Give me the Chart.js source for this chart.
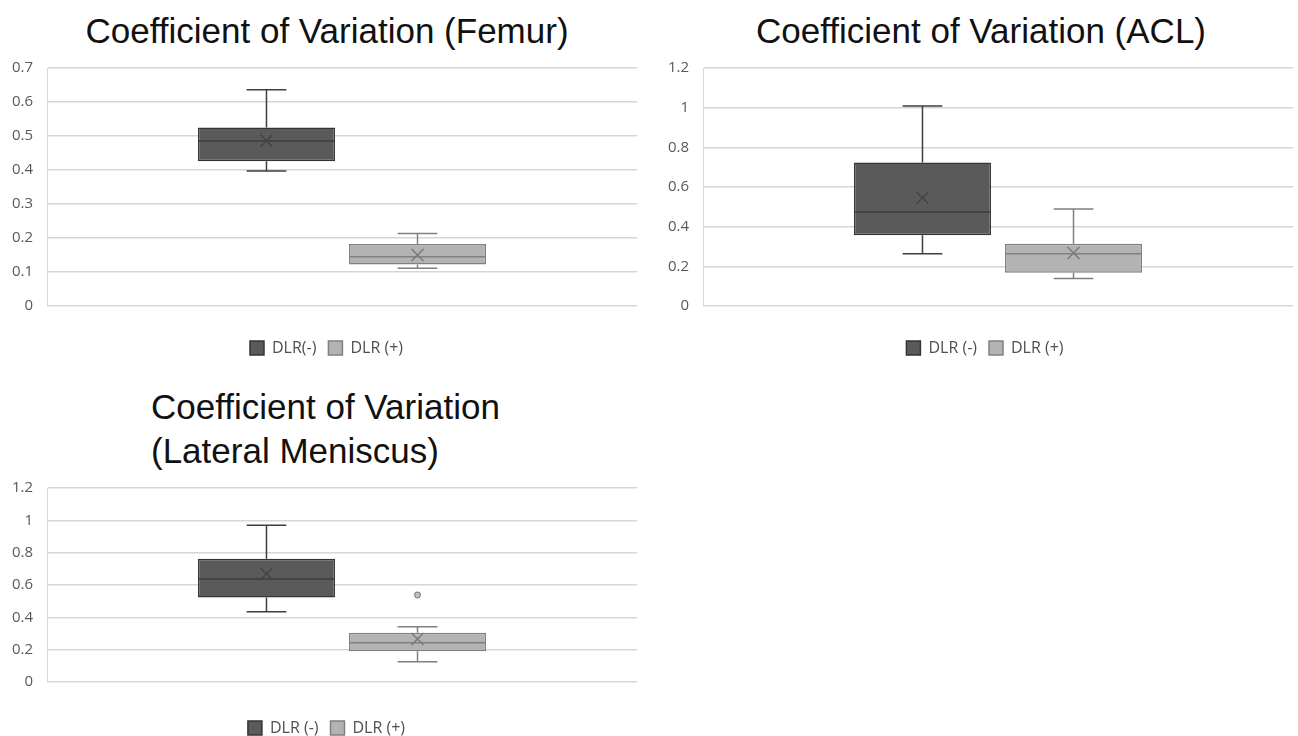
<!DOCTYPE html>
<html>
<head>
<meta charset="utf-8">
<script src="https://cdn.jsdelivr.net/npm/chart.js@4/dist/chart.umd.min.js"></script>
<style>
  html, body { margin: 0; padding: 0; background: #fff; overflow: hidden; }
  body { width: 1298px; height: 736px; position: relative; }
  .title { position: absolute; font-family: "Liberation Sans", Arial, sans-serif; font-size: 35px; color: #111; white-space: nowrap; }
  .box { position: absolute; }
</style>
</head>
<body>
<div class="title" style="left:2px; top:11px; width:650px; text-align:center;">Coefficient of Variation (Femur)</div>
<div class="title" style="left:656px; top:11px; width:650px; text-align:center;">Coefficient of Variation (ACL)</div>
<div class="title" style="left:151px; top:385px; line-height:44px;">Coefficient of Variation<br>(Lateral Meniscus)</div>

<div class="box" style="left:0; top:45px; width:653px; height:321px;"><canvas id="femur"></canvas></div>
<div class="box" style="left:656px; top:45px; width:658px; height:321px;"><canvas id="acl"></canvas></div>
<div class="box" style="left:0; top:465px; width:653px; height:281px;"><canvas id="meniscus"></canvas></div>

<script>
// one category per chart, two series (DLR- / DLR+)
const categories = [''];
const femurSeries = ['DLR(-)', 'DLR (+)'];
const otherSeries = ['DLR (-)', 'DLR (+)'];

// Femur
const femurMin = [0.397, 0.111];
const femurQ1 = [0.426, 0.122];
const femurMedian = [0.485, 0.145];
const femurQ3 = [0.525, 0.182];
const femurMax = [0.636, 0.213];
const femurMean = [0.486, 0.150];
const femurOutliers = [[], []];

// ACL
const aclMin = [0.263, 0.139];
const aclQ1 = [0.357, 0.168];
const aclMedian = [0.474, 0.263];
const aclQ3 = [0.724, 0.314];
const aclMax = [1.008, 0.489];
const aclMean = [0.546, 0.267];
const aclOutliers = [[], []];

// Lateral meniscus
const lmMin = [0.434, 0.126];
const lmQ1 = [0.522, 0.190];
const lmMedian = [0.637, 0.243];
const lmQ3 = [0.762, 0.305];
const lmMax = [0.969, 0.342];
const lmMean = [0.670, 0.266];
const lmOutliers = [[], [0.538]];

const fills = ['#5a5a5a', '#b3b3b3'];
const edges = ['#343434', '#808080'];
const inner = ['#3e3e3e', '#808080'];

// whiskers, median, mean cross and outliers on top of the floating bars
const whiskerPlugin = {
  id: 'whiskers',
  afterDatasetsDraw(chart) {
    const ctx = chart.ctx;
    const y = chart.scales.y;
    chart.data.datasets.forEach((ds, i) => {
      const bar = chart.getDatasetMeta(i).data[0];
      const s = ds.stats;
      const x = bar.x;
      const half = bar.width / 2;
      const cap = bar.width * 0.145;
      const yq1 = y.getPixelForValue(ds.data[0][0]);
      const yq3 = y.getPixelForValue(ds.data[0][1]);
      ctx.save();
      ctx.strokeStyle = inner[i];
      ctx.lineWidth = 1.5;
      ctx.beginPath();
      // upper whisker
      ctx.moveTo(x, yq3); ctx.lineTo(x, y.getPixelForValue(s.max));
      ctx.moveTo(x - cap, y.getPixelForValue(s.max)); ctx.lineTo(x + cap, y.getPixelForValue(s.max));
      // lower whisker
      ctx.moveTo(x, yq1); ctx.lineTo(x, y.getPixelForValue(s.min));
      ctx.moveTo(x - cap, y.getPixelForValue(s.min)); ctx.lineTo(x + cap, y.getPixelForValue(s.min));
      // median
      const ym = y.getPixelForValue(s.median);
      ctx.moveTo(x - half + 1, ym); ctx.lineTo(x + half - 1, ym);
      ctx.stroke();
      // mean marker
      const ya = y.getPixelForValue(s.mean);
      ctx.strokeStyle = i === 0 ? '#454545' : '#7a7a7a';
      ctx.beginPath();
      ctx.moveTo(x - 6, ya - 6); ctx.lineTo(x + 6, ya + 6);
      ctx.moveTo(x + 6, ya - 6); ctx.lineTo(x - 6, ya + 6);
      ctx.stroke();
      // outliers
      s.outliers.forEach(v => {
        ctx.beginPath();
        ctx.arc(x, y.getPixelForValue(v), 2.8, 0, Math.PI * 2);
        ctx.fillStyle = '#c2c2c2';
        ctx.fill();
        ctx.strokeStyle = '#8a8a8a';
        ctx.lineWidth = 1.2;
        ctx.stroke();
      });
      ctx.restore();
    });
  }
};

function makeBoxChart(id, names, mins, q1s, medians, q3s, maxs, means, outliers, yMax, yStep, xHeight, rightGap) {
  const datasets = names.map((name, i) => ({
    label: name,
    data: [[q1s[i], q3s[i]]],
    stats: { min: mins[i], median: medians[i], max: maxs[i], mean: means[i], outliers: outliers[i] },
    backgroundColor: fills[i],
    borderColor: edges[i],
    borderWidth: 1.5,
    borderSkipped: false,
    categoryPercentage: 0.512,
    barPercentage: 0.907
  }));

  return new Chart(document.getElementById(id), {
    type: 'bar',
    data: { labels: categories, datasets: datasets },
    plugins: [whiskerPlugin],
    options: {
      responsive: true,
      maintainAspectRatio: false,
      animation: false,
      layout: { padding: 0 },
      plugins: {
        tooltip: { enabled: false },
        legend: {
          position: 'bottom',
          labels: {
            boxWidth: 14,
            boxHeight: 14,
            padding: 12,
            color: '#505050',
            font: { family: '"Open Sans", sans-serif', size: 16 }
          }
        }
      },
      scales: {
        x: {
          grid: { display: false },
          border: { display: false },
          ticks: { display: false },
          afterFit: (scale) => { scale.height = xHeight; }
        },
        y: {
          min: 0,
          max: yMax,
          ticks: {
            stepSize: yStep,
            padding: 14,
            color: '#595959',
            font: { family: '"Open Sans", sans-serif', size: 15 },
            callback: (v) => String(+v.toFixed(2))
          },
          grid: { color: '#d6d6d6', lineWidth: 1.5, drawTicks: false },
          border: { display: true, color: '#d9d9d9', width: 1 },
          afterFit: (scale) => { scale.width = 47; }
        },
        // empty right axis, only keeps a gap after the plot
        yRight: {
          type: 'linear',
          position: 'right',
          grid: { display: false },
          border: { display: false },
          ticks: { display: false },
          afterFit: (scale) => { scale.width = rightGap; }
        }
      }
    }
  });
}

makeBoxChart('femur', femurSeries, femurMin, femurQ1, femurMedian, femurQ3, femurMax, femurMean, femurOutliers, 0.7, 0.1, 22, 16);
makeBoxChart('acl', otherSeries, aclMin, aclQ1, aclMedian, aclQ3, aclMax, aclMean, aclOutliers, 1.2, 0.2, 22, 21);
makeBoxChart('meniscus', otherSeries, lmMin, lmQ1, lmMedian, lmQ3, lmMax, lmMean, lmOutliers, 1.2, 0.2, 26, 16);
</script>
</body>
</html>
